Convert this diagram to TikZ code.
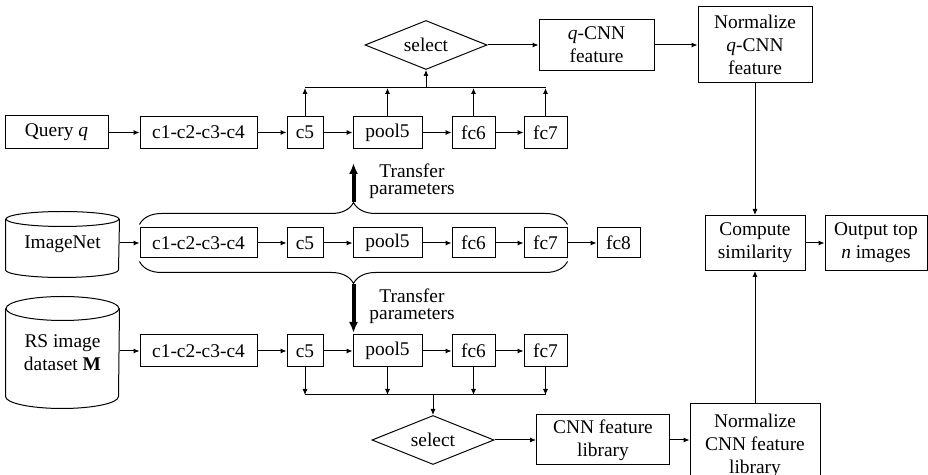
\documentclass[tikz,border=0pt]{standalone}
\usepackage{fontspec}
\setmainfont{Liberation Serif}
\usetikzlibrary{arrows.meta,shapes.geometric,decorations.pathreplacing,positioning}

\begin{document}
\begin{tikzpicture}[x=0.5pt,y=-0.5pt,line width=0.5pt,
    >={Latex[length=3pt,width=2.6pt]},
    font=\fontsize{9.7pt}{11.5pt}\selectfont,
    blk/.style={rectangle,draw=black,inner sep=0pt,minimum height=16pt,align=center},
    pick/.style={diamond,draw=black,inner sep=0pt,aspect=2.5,minimum width=61pt,minimum height=24.5pt},
    dbnode/.style={inner sep=0pt,align=center,minimum width=56.5pt},
    xfer/.style={line width=2pt,-{Latex[length=5.5pt,width=4.5pt]}},
    xferlab/.style={align=center,font=\fontsize{9.7pt}{8.5pt}\selectfont}]
		\useasboundingbox (0,0) rectangle (928,475);

		% query branch
		\node[blk,minimum width=51.5pt,minimum height=16.5pt] (query) at (56.5,132.5) {Query \textit{q}};
		\node[blk,minimum width=58.5pt] (qc14) at (198.5,132.5) {c1-c2-c3-c4};
		\node[blk,minimum width=18pt] (qc5) at (305,132.5) {c5};
		\node[blk,minimum width=34.5pt] (qpool) at (387.5,132.5) {pool5};
		\node[blk,minimum width=21.5pt] (qfc6) at (473.5,132.5) {fc6};
		\node[blk,minimum width=21.5pt] (qfc7) at (545.5,132.5) {fc7};
		\foreach \a/\b in {query/qc14,qc14/qc5,qc5/qpool,qpool/qfc6,qfc6/qfc7}
			\draw[->] (\a) -- (\b);

		% layer outputs -> select
		\coordinate (qbus) at (426,88);
		\foreach \n in {qc5,qpool,qfc6,qfc7}
			\draw[->] (\n.north) -- (\n.north |- qbus);
		\draw (qc5.north |- qbus) -- (qfc7.north |- qbus);
		\node[pick] (qsel) at (426,45) {select};
		\draw[->] (qbus) -- (qsel.south);

		\node[blk,minimum width=57.5pt,minimum height=25.5pt] (qcnn) at (596.5,45) {\textit{q}-CNN\\feature};
		\node[blk,minimum width=57pt,minimum height=38pt] (qnorm) at (755,45) {Normalize\\\textit{q}-CNN\\feature};
		\draw[->] (qsel) -- (qcnn);
		\draw[->] (qcnn) -- (qnorm);

		% similarity and output
		\node[blk,minimum width=50pt,minimum height=27.5pt] (comp) at (755,243) {Compute\\similarity};
		\node[blk,minimum width=51pt,minimum height=27.5pt] (outp) at (876,243) {Output top\\\textit{n} images};
		\draw[->] (qnorm) -- (comp);
		\draw[->] (comp) -- (outp);

		% pretrained net
		\node[dbnode,minimum height=32.5pt] (imnet) at (62.5,244.5) {ImageNet};
		\draw ([yshift=-3.75pt]imnet.north west) -- ([yshift=3.75pt]imnet.south west)
			arc[start angle=180,end angle=360,x radius=28.25pt,y radius=3.75pt] -- ([yshift=-3.75pt]imnet.north east);
		\draw ([yshift=-3.75pt]imnet.north) ellipse [x radius=28.25pt,y radius=3.75pt];
		\node[blk,minimum width=58.5pt,minimum height=15pt] (ic14) at (198.5,243) {c1-c2-c3-c4};
		\node[blk,minimum width=18pt,minimum height=15pt] (ic5) at (305,243) {c5};
		\node[blk,minimum width=34.5pt,minimum height=15pt] (ipool) at (387.5,243) {pool5};
		\node[blk,minimum width=21.5pt,minimum height=15pt] (ifc6) at (473.5,243) {fc6};
		\node[blk,minimum width=21.5pt,minimum height=15pt] (ifc7) at (545.5,243) {fc7};
		\node[blk,minimum width=21.5pt,minimum height=15pt] (ifc8) at (618.5,243) {fc8};
		\draw[->] (imnet.east |- ic14) -- (ic14);
		\foreach \a/\b in {ic14/ic5,ic5/ipool,ipool/ifc6,ifc6/ifc7,ifc7/ifc8}
			\draw[->] (\a) -- (\b);

		% transfer braces
		\draw[decorate,decoration={brace,amplitude=11pt}] ([yshift=1.5pt]ic14.north west) -- ([yshift=1.5pt]ifc7.north east);
		\draw[decorate,decoration={brace,amplitude=11pt}] ([yshift=-1.5pt]ifc7.south east) -- ([yshift=-1.5pt]ic14.south west);
		\coordinate (tup) at (353.5,202);
		\coordinate (tupend) at (353.5,163);
		\coordinate (tdn) at (353.5,284);
		\coordinate (tdnend) at (353.5,333);
		\draw[xfer] (tup) -- (tupend);
		\draw[xfer] (tdn) -- (tdnend);
		\node[xferlab] (tlabup) at (412,181) {Transfer\\parameters};
		\node[xferlab] (tlabdn) at (412,306) {Transfer\\parameters};

		% dataset branch
		\node[dbnode,minimum height=55.5pt] (rsimg) at (62.5,352.5) {RS image\\dataset \textbf{M}};
		\draw ([yshift=-6pt]rsimg.north west) -- ([yshift=6pt]rsimg.south west)
			arc[start angle=180,end angle=360,x radius=28.25pt,y radius=6pt] -- ([yshift=-6pt]rsimg.north east);
		\draw ([yshift=-6pt]rsimg.north) ellipse [x radius=28.25pt,y radius=6pt];
		\node[blk,minimum width=58.5pt] (mc14) at (198.5,351) {c1-c2-c3-c4};
		\node[blk,minimum width=18pt] (mc5) at (305,351) {c5};
		\node[blk,minimum width=34.5pt] (mpool) at (387.5,351) {pool5};
		\node[blk,minimum width=21.5pt] (mfc6) at (473.5,351) {fc6};
		\node[blk,minimum width=21.5pt] (mfc7) at (545.5,351) {fc7};
		\draw[->] (rsimg.east |- mc14) -- (mc14);
		\foreach \a/\b in {mc14/mc5,mc5/mpool,mpool/mfc6,mfc6/mfc7}
			\draw[->] (\a) -- (\b);

		% layer outputs -> select -> library
		\coordinate (mbus) at (433,395);
		\foreach \n in {mc5,mpool,mfc6,mfc7}
			\draw[->] (\n.south) -- (\n.south |- mbus);
		\draw (mc5.south |- mbus) -- (mfc7.south |- mbus);
		\node[pick] (msel) at (433,440) {select};
		\draw[->] (mbus) -- (msel.north);
		\node[blk,minimum width=66.5pt,minimum height=25pt] (clib) at (603,440) {CNN feature\\library};
		\node[blk,minimum width=65pt,minimum height=42pt,anchor=north] (cnorm) at (755,403) {Normalize\\CNN feature\\library};
		\draw[->] (msel) -- (clib);
		\draw[->] (clib.east) -- (clib.east -| cnorm.west);
		\draw[->] (cnorm) -- (comp);
	\end{tikzpicture}
\end{document}
